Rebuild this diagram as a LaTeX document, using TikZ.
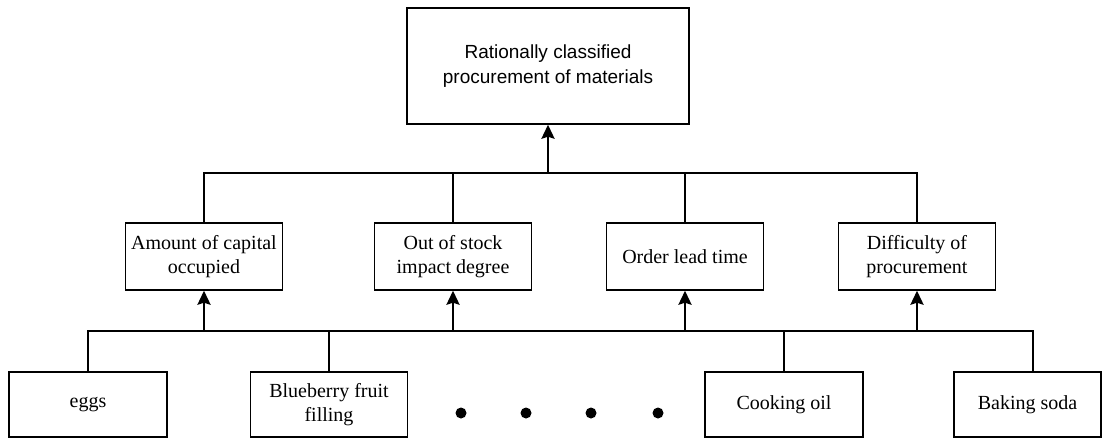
\documentclass[tikz,border=0pt]{standalone}
\usepackage{fontspec}
\setmainfont{Liberation Serif}
\newfontfamily\arialfont{Liberation Sans}
\usetikzlibrary{arrows.meta}
\begin{document}
\begin{tikzpicture}[x=1pt,y=-1pt,
  box/.style={draw, line width=1.4pt, inner sep=0pt, align=center, font=\fontsize{20}{24.5}\selectfont},
  mid/.style={box, minimum width=157pt, minimum height=67pt},
  leaf/.style={box, minimum height=65pt},
  wire/.style={line width=1.6pt},
  arr/.style={line width=2.5pt, -{Stealth[length=14pt,width=13pt,inset=2pt]}},
  dot/.style={circle, fill, inner sep=0pt, minimum size=11pt}]
\useasboundingbox (0,0) rectangle (1103,439);
% top
\node[box, minimum width=282pt, minimum height=116pt, font=\arialfont\fontsize{19}{25}\selectfont] (top) at (548,66) {Rationally classified\\procurement of materials};
% middle
\node[mid] (m1) at (204,256.5) {Amount of capital\\occupied};
\node[mid] (m2) at (453,256.5) {Out of stock\\impact degree};
\node[mid] (m3) at (685,256.5) {Order lead time};
\node[mid] (m4) at (917,256.5) {Difficulty of\\procurement};
% leaves
\node[leaf, minimum width=158pt] (eggs) at (88,404.5) {eggs};
\node[leaf, minimum width=157pt] (blue) at (329,404.5) {Blueberry fruit\\filling};
\node[leaf, minimum width=158pt] (cook) at (784,404.5) {Cooking oil};
\node[leaf, minimum width=147pt] (soda) at (1027.5,404.5) {Baking soda};
% dots
\node[dot] (d1) at (461,413) {};
\node[dot] (d2) at (526,413) {};
\node[dot] (d3) at (591,413) {};
\node[dot] (d4) at (658,413) {};
% upper bus
\coordinate (tb) at (0,173);
\draw[wire] (m1.north) -- (m1.north |- tb) -- (m4.north |- tb) -- (m4.north);
\draw[wire] (m2.north) -- (m2.north |- tb);
\draw[wire] (m3.north) -- (m3.north |- tb);
\draw[arr] (top.south |- tb) -- (top.south);
% lower bus
\coordinate (bR) at (1033,331);
\draw[wire] (eggs.north) |- (bR) -- (bR |- soda.north);
\draw[wire] (blue.north) -- (blue.north |- bR);
\draw[wire] (cook.north) -- (cook.north |- bR);
\draw[line width=2.2pt] (m1.south |- bR) -- (cook.north |- bR);
\draw[arr] (m1.south |- bR) -- (m1.south);
\draw[arr] (m2.south |- bR) -- (m2.south);
\draw[arr] (m3.south |- bR) -- (m3.south);
\draw[arr] (m4.south |- bR) -- (m4.south);
\end{tikzpicture}
\end{document}
